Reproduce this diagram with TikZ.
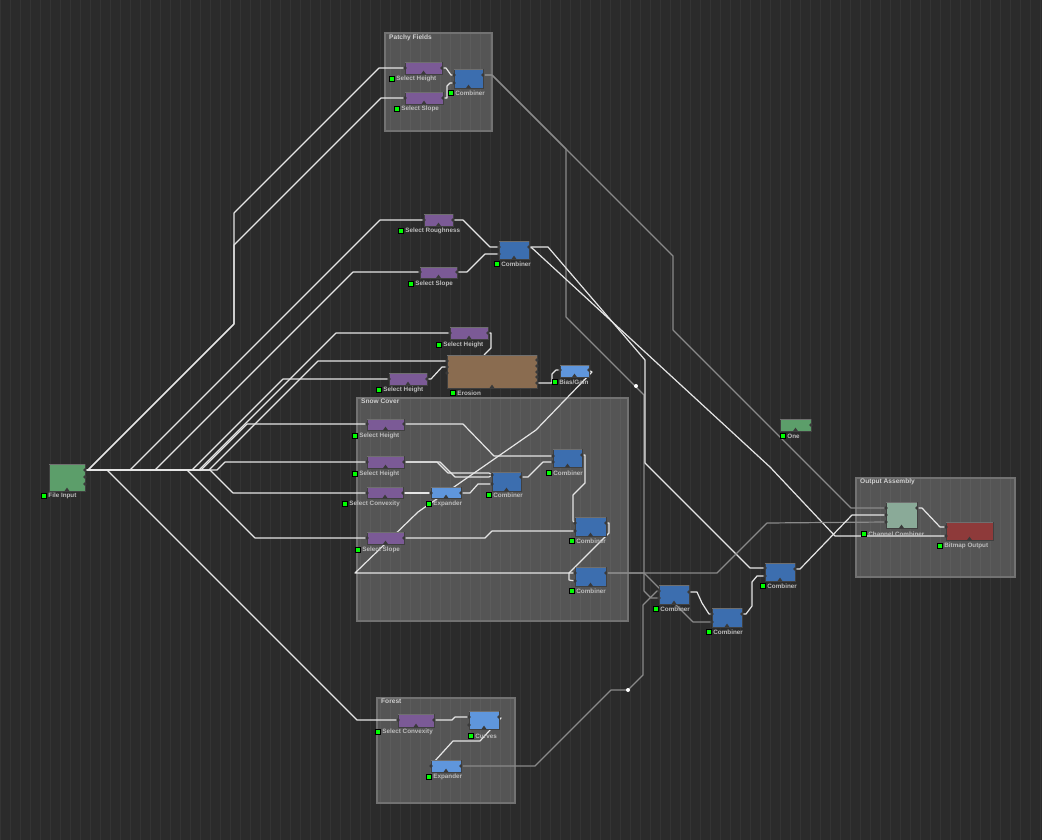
\documentclass[tikz,border=0pt]{standalone}
\usepackage{fontspec}
\setmainfont{Liberation Sans}
\usetikzlibrary{calc,fit}
\definecolor{bgc}{HTML}{2B2B2B}
\definecolor{gridc}{HTML}{343434}
\definecolor{wirec}{HTML}{E6E6E6}
\definecolor{gwirec}{HTML}{8A8A8A}
\definecolor{grpborder}{HTML}{727272}
\definecolor{titlec}{HTML}{D0D0D0}
\definecolor{labc}{HTML}{BDBDBD}
\definecolor{sqc}{HTML}{00FF00}
\definecolor{portc}{HTML}{3A3A3A}
\definecolor{cpurple}{HTML}{7B5A96}
\definecolor{cblue}{HTML}{3C6EAF}
\definecolor{clblue}{HTML}{5F96DC}
\definecolor{cbrown}{HTML}{8A6C50}
\definecolor{cgreen}{HTML}{5C9E6A}
\definecolor{csage}{HTML}{8AAA98}
\definecolor{cred}{HTML}{8E3A3A}
\newcommand\wmn[9]{%
  \node[box, fill=#6, fit={(#2,#3)(#4,#5)}] (#1) {};
  \draw[white, opacity=0.25, line width=0.6pt] ($(#1.north west)+(0.5,1)$) -- ($(#1.north east)+(-0.5,1)$);
  \fill[portc] ($(#1.south)+(-2.6,0)$) -- ++(2.6,-3.6) -- ++(2.6,3.6) -- cycle;
  \node[sq] (#1-s) at (#8,#9) {};
  \node[lab] (#1-l) at ($(#8,#9)+(4.2,0)$) {#7};
}
\begin{document}
\begin{tikzpicture}[x=1pt,y=-1pt,
  wire/.style={draw=wirec, line width=1.2pt, line join=round},
  gwire/.style={draw=gwirec, line width=1.2pt, line join=round},
  box/.style={inner sep=0pt, draw=black!75, line width=0.5pt},
  grp/.style={fill=white, fill opacity=0.2, draw=grpborder, line width=1.6pt, inner sep=0pt},
  gtitle/.style={text=titlec, font=\fontsize{6.6}{7}\selectfont\bfseries, anchor=north west, inner sep=0pt},
  lab/.style={text=labc, font=\fontsize{6.3}{7}\selectfont\bfseries, anchor=west, inner sep=0pt},
  sq/.style={fill=sqc, draw=black, line width=0.7pt, minimum size=5.5pt, inner sep=0pt},
  dotn/.style={circle, fill=white, inner sep=0pt, minimum size=4pt}]
\fill[bgc] (0,0) rectangle (1042,840);
\useasboundingbox (0,0) rectangle (1042,840);
\draw[gridc, line width=0.6pt] (0,0) grid[step=10] (1042,840);

% groups
\node[grp, fit={(385,33)(492,131)}] (gPF) {};
\node[gtitle] (gPFt) at (389,35) {Patchy Fields};
\node[grp, fit={(357,398)(628,621)}] (gSC) {};
\node[gtitle] (gSCt) at (361,399) {Snow Cover};
\node[grp, fit={(377,698)(515,803)}] (gFO) {};
\node[gtitle] (gFOt) at (381,699) {Forest};
\node[grp, fit={(856,478)(1015,577)}] (gOA) {};
\node[gtitle] (gOAt) at (860,479) {Output Assembly};

% ports
\def\portlist{fi-o1/85/470, fi-o2/85/477, fi-o3/85/484,
 pfSH-i/405/68, pfSH-o/442/68, pfSS-i/405/98, pfSS-o/443/98,
 pfC-i1/454/75, pfC-i2/454/83, pfC-o/483/75,
 mSR-i/424/220, mSR-o/453/220, mSS-i/420/272, mSS-o/457/272,
 mC-i1/499/247, mC-i2/499/254, mC-o/529/247,
 mSH-i/450/333, mSH-o/488/333,
 ero-i1/447/361, ero-i2/447/367, ero-i3/447/373,
 ero-o1/537/360, ero-o2/537/366, ero-o3/537/372, ero-o4/537/377, ero-o5/537/383,
 mSH2-i/389/379, mSH2-o/427/379, bg-i/560/370, bg-o/589/370,
 sSH1-i/367/424, sSH1-o/404/424, sSH2-i/367/462, sSH2-o/404/462,
 sSC-i/367/493, sSC-o/403/493, sEx-i/431/493, sEx-o/461/493,
 sCA-i1/492/475, sCA-i2/492/484, sCA-o/521/477,
 sCB-i1/553/456, sCB-i2/553/462, sCB-o/582/455,
 sSS-i/367/538, sSS-o/404/538,
 sCC-i1/575/523, sCC-i2/575/531, sCC-o/606/523,
 sCD-i1/575/573, sCD-i2/575/581, sCD-o/606/573,
 fSC-i/398/720, fSC-o/434/720, fCu-i1/469/717, fCu-i2/469/725, fCu-o/499/717,
 fEx-i/431/766, fEx-o/461/766,
 cE-i1/659/591, cE-i2/659/598, cE-o/689/592,
 cF-i1/712/614, cF-i2/712/622, cF-o/742/614,
 cG-i1/765/568, cG-i2/765/576, cG-o/795/569,
 one-o/811/425,
 cc-i1/886/508, cc-i2/886/515, cc-i3/886/522, cc-o/917/508,
 bo-i1/946/527, bo-i2/946/536}
\foreach \n/\x/\y in \portlist { \coordinate (\n) at (\x,\y); }
\coordinate (ero-t) at (484,355);

% wires from File Input
\draw[wire] (fi-o1) -- (88,470) -- (234,324) -- (234,213) -- (379,68) -- (pfSH-i);
\draw[wire] (fi-o1) -- (88,470) -- (234,324) -- (234,245) -- (381,98) -- (pfSS-i);
\draw[wire] (fi-o1) -- (130,470) -- (380,220) -- (mSR-i);
\draw[wire] (fi-o1) -- (155,470) -- (353,272) -- (mSS-i);
\draw[wire] (fi-o1) -- (199,470) -- (336,333) -- (mSH-i);
\draw[wire] (fi-o1) -- (209,470) -- (318,361) -- (ero-i1);
\draw[wire] (fi-o1) -- (192,470) -- (283,379) -- (mSH2-i);
\draw[wire] (fi-o1) -- (201,470) -- (247,424) -- (sSH1-i);
\draw[wire] (fi-o1) -- (217,470) -- (225,462) -- (sSH2-i);
\draw[wire] (fi-o1) -- (210,470) -- (233,493) -- (sSC-i);
\draw[wire] (fi-o1) -- (187,470) -- (255,538) -- (sSS-i);
\draw[wire] (fi-o1) -- (107,470) -- (357,720) -- (fSC-i);

% Patchy Fields
\draw[wire] (pfSH-o) -- (446,68) -- (451,75) -- (pfC-i1);
\draw[wire] (pfSS-o) -- (447,98) -- (447,86) -- (450,83) -- (pfC-i2);
\draw[gwire] (pfC-o) -- (492,75) -- (566,149) -- (673,256) -- (673,330) -- (851,508) -- (cc-i1);
\draw[gwire] (pfC-o) -- (492,75) -- (566,149) -- (566,317) -- (644,395) -- (644,591) -- (651,598) -- (cE-i2);

% middle
\draw[wire] (mSR-o) -- (463,220) -- (490,247) -- (mC-i1);
\draw[wire] (mSS-o) -- (467,272) -- (485,254) -- (mC-i2);
\draw[wire] (mC-o) -- (532,248) -- (770,467) -- (835,536) -- (bo-i2);
\draw[wire] (mC-o) -- (548,247) -- (645,360) -- (645,463) -- (750,568) -- (cG-i1);
\draw[wire] (mSH-o) -- (491,333) -- (491,348) -- (ero-t);
\draw[wire] (mSH2-o) -- (431,379) -- (442,367) -- (ero-i2);
\draw[wire] (ero-o5) -- (552,383) -- (552,374) -- (556,370) -- (bg-i);
\draw[wire] (bg-o) -- (592,372) -- (536,430) -- (418,512) -- (355,573) -- (sCD-i1);

% Snow Cover
\draw[wire] (sSH1-o) -- (463,424) -- (494,456) -- (sCB-i1);
\draw[wire] (sSH2-o) -- (440,462) -- (455,477) -- (489,477) -- (sCA-i1);
\draw[wire] (sSH2-o) -- (437,462) -- (448,473) -- (489,473) -- (sCA-i1);
\draw[wire] (sSC-o) -- (sEx-i);
\draw[wire] (sEx-o) -- (470,493) -- (478,484) -- (sCA-i2);
\draw[wire] (sCA-o) -- (528,477) -- (543,462) -- (sCB-i2);
\draw[wire] (sCB-o) -- (585,455) -- (585,483) -- (573,495) -- (573,521) -- (sCC-i1);
\draw[wire] (sSS-o) -- (485,538) -- (492,531) -- (sCC-i2);
\draw[wire] (sCC-o) -- (609,523) -- (609,533) -- (569,573) -- (569,580) -- (sCD-i2);
\draw[gwire] (sCD-o) -- (717,573) -- (767,523) -- (cc-i3);
\draw[gwire] (sCD-o) -- (644,573) -- (693,622) -- (cF-i2);

% Forest
\draw[wire] (fSC-o) -- (452,720) -- (455,717) -- (fCu-i1);
\draw[wire] (fCu-o) -- (501,718) -- (480,741) -- (453,741) -- (433,763) -- (fEx-i);
\draw[gwire] (fEx-o) -- (535,766) -- (611,690) -- (628,690) -- (643,675) -- (643,605) -- (657,591) -- (cE-i1);

% right side
\draw[wire] (cE-o) -- (697,592) -- (702,603) -- (709,614) -- (cF-i1);
\draw[wire] (cF-o) -- (746,614) -- (752,606) -- (752,582) -- (757,576) -- (cG-i2);
\draw[wire] (cG-o) -- (800,569) -- (852,515) -- (cc-i2);
\draw[wire] (cc-o) -- (922,508) -- (940,527) -- (bo-i1);

\node[dotn] (rp1) at (636,386) {};
\node[dotn] (rp2) at (628,690) {};

% nodes
\wmn{fi}{49}{464}{85}{491}{cgreen}{File Input}{44}{496}
\wmn{pfSH}{405}{62}{442}{74}{cpurple}{Select Height}{392}{79}
\wmn{pfSS}{405}{92}{443}{104}{cpurple}{Select Slope}{397}{109}
\wmn{pfC}{454}{69}{483}{88}{cblue}{Combiner}{451}{93}
\wmn{mSR}{424}{214}{453}{226}{cpurple}{Select Roughness}{401}{231}
\wmn{mSS}{420}{267}{457}{278}{cpurple}{Select Slope}{411}{284}
\wmn{mC}{499}{241}{529}{259}{cblue}{Combiner}{497}{264}
\wmn{mSH}{450}{327}{488}{339}{cpurple}{Select Height}{439}{345}
\wmn{ero}{447}{355}{537}{388}{cbrown}{Erosion}{453}{393}
\wmn{mSH2}{389}{373}{427}{385}{cpurple}{Select Height}{379}{390}
\wmn{bg}{560}{365}{589}{377}{clblue}{Bias/Gain}{555}{382}
\wmn{sSH1}{367}{419}{404}{430}{cpurple}{Select Height}{355}{436}
\wmn{sSH2}{367}{456}{404}{468}{cpurple}{Select Height}{355}{474}
\wmn{sSC}{367}{487}{403}{498}{cpurple}{Select Convexity}{345}{504}
\wmn{sEx}{431}{487}{461}{498}{clblue}{Expander}{429}{504}
\wmn{sCA}{492}{472}{521}{491}{cblue}{Combiner}{489}{495}
\wmn{sCB}{553}{449}{582}{467}{cblue}{Combiner}{549}{473}
\wmn{sSS}{367}{532}{404}{544}{cpurple}{Select Slope}{358}{550}
\wmn{sCC}{575}{517}{606}{536}{cblue}{Combiner}{572}{541}
\wmn{sCD}{575}{567}{606}{586}{cblue}{Combiner}{572}{591}
\wmn{fSC}{398}{714}{434}{727}{cpurple}{Select Convexity}{378}{732}
\wmn{fCu}{469}{711}{499}{729}{clblue}{Curves}{471}{736}
\wmn{fEx}{431}{760}{461}{772}{clblue}{Expander}{429}{777}
\wmn{cE}{659}{585}{689}{604}{cblue}{Combiner}{656}{609}
\wmn{cF}{712}{608}{742}{627}{cblue}{Combiner}{709}{632}
\wmn{cG}{765}{563}{795}{581}{cblue}{Combiner}{763}{586}
\wmn{one}{780}{419}{811}{431}{cgreen}{One}{783}{436}
\wmn{cc}{886}{502}{917}{528}{csage}{Channel Combiner}{864}{534}
\wmn{bo}{946}{522}{993}{540}{cred}{Bitmap Output}{940}{546}

% port notches
\foreach \n/\x/\y in \portlist { \fill[portc] (\x,\y) circle (1.9); }
\end{tikzpicture}
\end{document}
